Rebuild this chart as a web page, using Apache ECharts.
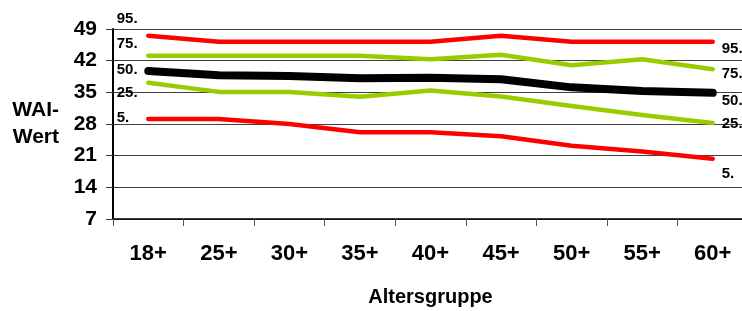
<!DOCTYPE html>
<html>
<head>
<meta charset="utf-8">
<title>WAI-Wert nach Altersgruppe</title>
<script src="https://cdn.jsdelivr.net/npm/echarts@6.0.0/dist/echarts.min.js"></script>
<style>
  html, body { margin: 0; padding: 0; background: #fff; }
  #chart { width: 742px; height: 311px; }
</style>
</head>
<body>
<div id="chart"></div>
<script>
// Kategorien (x-Achse)
var ageGroups = ['18+', '25+', '30+', '35+', '40+', '45+', '50+', '55+', '60+'];
// Perzentile des WAI-Werts je Altersgruppe
var p95 = [47.5, 46.2, 46.2, 46.2, 46.2, 47.5, 46.2, 46.2, 46.2];
var p75 = [43.1, 43.1, 43.1, 43.1, 42.3, 43.3, 41.0, 42.3, 40.1];
var p50 = [39.7, 38.8, 38.6, 38.1, 38.2, 37.9, 36.1, 35.3, 34.9];
var p25 = [37.1, 35.1, 35.1, 34.0, 35.4, 34.1, 32.0, 30.0, 28.2];
var p5 = [29.1, 29.1, 28.0, 26.2, 26.2, 25.3, 23.2, 21.9, 20.3];
var seriesNames = ['95.', '75.', '50.', '25.', '5.'];
// y-Achse
var yMin = 7, yMax = 49, yStep = 7;

var FONT = '"Liberation Sans", Arial, sans-serif';
var RED = '#ff0000', GREEN = '#99cc00', BLACK = '#000000';

// eine Linie mit Beschriftung links (erster Punkt) und rechts (Ende)
function makeLine(name, data, color, width, leftDy, rightDy) {
  return {
    name: name,
    type: 'line',
    data: data,
    symbol: 'circle',
    symbolSize: 1,
    showSymbol: true,
    itemStyle: { color: color },
    lineStyle: { color: color, width: width, cap: 'round', join: 'round' },
    label: {
      show: true,
      position: [-31, leftDy],
      align: 'left',
      verticalAlign: 'middle',
      formatter: function (p) { return p.dataIndex === 0 ? name : ''; },
      color: '#000',
      fontFamily: FONT,
      fontWeight: 'bold',
      fontSize: 15
    },
    endLabel: {
      show: true,
      formatter: name,
      distance: 9,
      offset: [0, rightDy],
      color: '#000',
      fontFamily: FONT,
      fontWeight: 'bold',
      fontSize: 15
    },
    emphasis: { disabled: true },
    z: 2
  };
}

var chart = echarts.init(document.getElementById('chart'), null, { renderer: 'canvas' });

var option = {
  animation: false,
  grid: {
    left: 113,
    top: 29,
    width: 635,
    height: 190,
    containLabel: false,
    outerBoundsMode: 'none'
  },
  xAxis: {
    type: 'category',
    data: ageGroups,
    boundaryGap: true,
    name: 'Altersgruppe',
    nameLocation: 'middle',
    nameGap: 68,
    nameTextStyle: { color: '#000', fontFamily: FONT, fontWeight: 'bold', fontSize: 20 },
    axisLine: { lineStyle: { color: '#000', width: 1.5 } },
    axisTick: { show: true, length: 7, lineStyle: { color: '#555' } },
    axisLabel: { margin: 24, color: '#000', fontFamily: FONT, fontWeight: 'bold', fontSize: 22 },
    splitLine: { show: false }
  },
  yAxis: {
    type: 'value',
    min: yMin,
    max: yMax,
    interval: yStep,
    name: 'WAI-\nWert',
    nameLocation: 'middle',
    nameRotate: 0,
    nameGap: 54,
    nameTextStyle: {
      color: '#000', fontFamily: FONT, fontWeight: 'bold', fontSize: 21,
      lineHeight: 27, align: 'right', padding: [0, 0, 8, 0]
    },
    axisLine: { show: true, lineStyle: { color: '#000', width: 2 } },
    axisTick: { show: true, length: 7, lineStyle: { color: '#333' } },
    axisLabel: { margin: 16, color: '#000', fontFamily: FONT, fontWeight: 'bold', fontSize: 21 },
    splitLine: { show: true, lineStyle: { color: '#404040', width: 1 } }
  },
  series: [
    makeLine(seriesNames[0], p95, RED, 4.5, -16, 7),
    makeLine(seriesNames[1], p75, GREEN, 4.5, -11, 5),
    makeLine(seriesNames[2], p50, BLACK, 8, -1, 8),
    makeLine(seriesNames[3], p25, GREEN, 4.5, 11, 1),
    makeLine(seriesNames[4], p5, RED, 4.5, -1, 15)
  ]
};

chart.setOption(option);
</script>
</body>
</html>
